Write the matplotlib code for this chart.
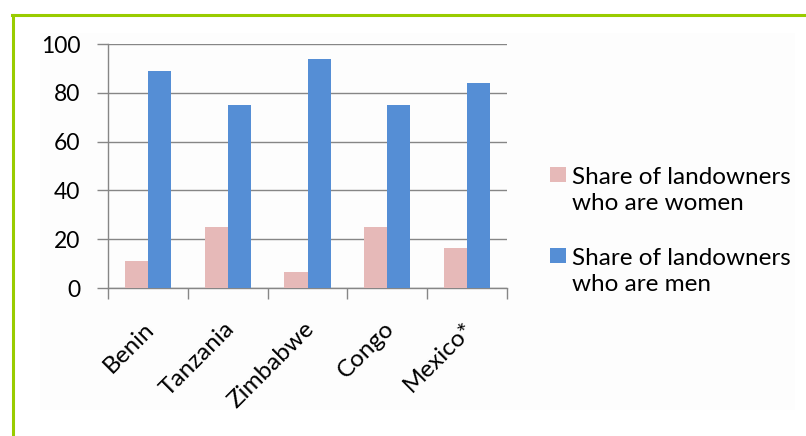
import matplotlib
matplotlib.use("Agg")
import matplotlib.pyplot as plt
from matplotlib.lines import Line2D
from matplotlib.patches import Rectangle
import numpy as np

categories = ["Benin", "Tanzania", "Zimbabwe", "Congo", "Mexico*"]
women = [11, 25, 6.5, 25, 16.5]
men = [89, 75, 94, 75, 84]
labels = ["Share of landowners\nwho are women", "Share of landowners\nwho are men"]
yticks = [0, 20, 40, 60, 80, 100]
colors = ["#e6b9b8", "#558ed5"]

plt.rcParams['font.family'] = ['Lato', 'DejaVu Sans']

W, H = 806, 436
fig = plt.figure(figsize=(W / 100, H / 100), dpi=100)
fig.patch.set_facecolor("white")

# faint inner chart area
fig.patches.append(Rectangle((40 / W, 1 - 410 / H), 755 / W, 377 / H,
                             transform=fig.transFigure, facecolor="#fdfdfd",
                             edgecolor="none", zorder=-5))
# green frame
green = "#99cc00"
fig.add_artist(Line2D([12 / W, 1], [1 - 15 / H, 1 - 15 / H], color=green, lw=2.2,
                      transform=fig.transFigure))
fig.add_artist(Line2D([13 / W, 13 / W], [0, 1 - 15 / H], color=green, lw=2.2,
                      transform=fig.transFigure))

ax = fig.add_axes([108 / W, 1 - 288 / H, 399 / W, 244 / H])
ax.set_facecolor("none")
x = np.arange(len(categories))
bw = 0.29
ax.bar(x - bw / 2, women, width=bw, color=colors[0], label=labels[0], zorder=3)
ax.bar(x + bw / 2, men, width=bw, color=colors[1], label=labels[1], zorder=3)

ax.set_xlim(-0.5, len(categories) - 0.5)
ax.set_ylim(0, 100)
ax.set_yticks(yticks)
ax.set_yticklabels([str(v) for v in yticks], fontsize=16.5)
ax.grid(axis="y", color="#868686", lw=1.0, zorder=1)
ax.tick_params(axis="y", length=8, width=1, color="#868686", pad=12)

ax.set_xticks(np.arange(len(categories) + 1) - 0.5, minor=False)
ax.set_xticklabels([])
ax.set_xticks(x + 0.04, minor=True)
ax.set_xticklabels(categories, minor=True, rotation=45, ha="right", va="center",
                   rotation_mode="anchor", fontsize=17.5)
ax.tick_params(axis="x", which="major", length=8, width=1, color="#868686")
ax.tick_params(axis="x", which="minor", length=0, pad=27)

for s in ["top", "right"]:
    ax.spines[s].set_visible(False)
for s in ["left", "bottom"]:
    ax.spines[s].set_color("#868686")
    ax.spines[s].set_linewidth(1)

# legend drawn as squares with two-line labels, first line aligned with square
entry_tops = [167, 248]
for lab, col, top in zip(labels, colors, entry_tops):
    fig.patches.append(Rectangle((550 / W, 1 - (top + 15) / H), 16 / W, 15 / H,
                                 transform=fig.transFigure, facecolor=col,
                                 edgecolor="none"))
    fig.text(572 / W, 1 - top / H, lab, ha="left", va="top", fontsize=17.5,
             linespacing=1.32, color="black")

fig.savefig("out.png", dpi=100)
